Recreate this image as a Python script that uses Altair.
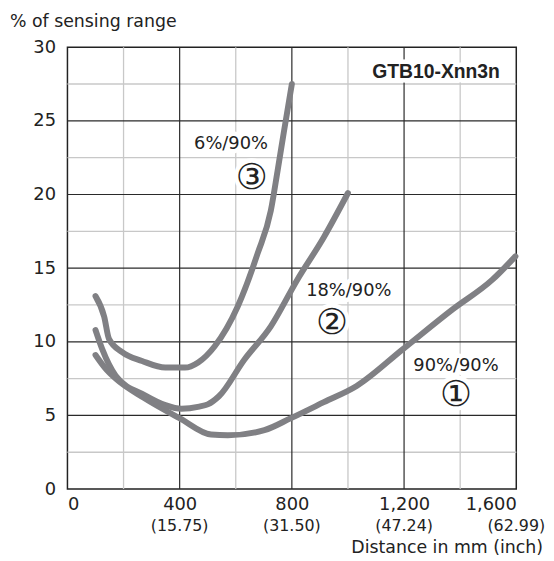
import altair as alt
import pandas as pd

# ---- data ----
c1_x = [100, 135, 172, 272, 401, 512, 572, 702, 795, 914, 1031, 1196, 1373, 1514, 1597]
c1_y = [9.1, 8.2, 7.5, 6.2, 4.8, 3.7, 3.65, 4.0, 4.8, 5.9, 7.0, 9.5, 12.2, 14.2, 15.8]

c2_x = [100, 124, 172, 278, 349, 407, 470, 500, 540, 631, 725, 819, 914, 1000]
c2_y = [10.8, 9.5, 7.7, 6.35, 5.7, 5.45, 5.6, 5.75, 6.3, 8.8, 11.05, 14.2, 17.1, 20.1]

c3_x = [100, 131, 148, 195, 266, 349, 419, 466, 525, 607, 678, 725, 749, 772, 800]
c3_y = [13.1, 11.7, 10.2, 9.3, 8.7, 8.25, 8.25, 8.6, 9.7, 12.4, 16.0, 18.9, 21.6, 24.3, 27.5]

x_ticks = [0, 400, 800, 1200, 1600]
x_inch = ["", "(15.75)", "(31.50)", "(47.24)", "(62.99)"]
y_ticks = [0, 5, 10, 15, 20, 25, 30]
x_minor = [200, 600, 1000, 1400]
y_minor = [2.5, 7.5, 12.5, 17.5, 22.5, 27.5]
x_major = [400, 800, 1200]
y_major = [5, 10, 15, 20, 25]

label_text = ["6%/90%", "18%/90%", "90%/90%"]
label_x = [583, 1003, 1385]
label_y = [23.4, 13.45, 8.34]
num_text = ["③", "②", "①"]
num_x = [657, 943, 1385]
num_y = [21.1, 11.3, 6.4]
model_text = ["GTB10-Xnn3n"]
model_x = [1314]
model_y = [28.3]

W, H = 453, 446
FONT = "DejaVu Sans"
xs = alt.Scale(domain=[0, 1600], nice=False)
ys = alt.Scale(domain=[0, 30], nice=False)

curves = pd.concat([
    pd.DataFrame({"x": c1_x, "y": c1_y, "c": "1"}),
    pd.DataFrame({"x": c2_x, "y": c2_y, "c": "2"}),
    pd.DataFrame({"x": c3_x, "y": c3_y, "c": "3"}),
])

base_x = alt.X("x:Q", scale=xs, axis=alt.Axis(values=x_ticks, format=",.0f", grid=False, ticks=False,
                                                domain=False, labelFontSize=18, labelPadding=7,
                                                labelColor="#222", labelFont=FONT, title=None))
base_y = alt.Y("y:Q", scale=ys, axis=alt.Axis(values=y_ticks, format=".0f", grid=False, ticks=False,
                                                domain=False, labelFontSize=18, labelPadding=12,
                                                labelColor="#222", labelFont=FONT, title=None))

minor_x = alt.Chart(pd.DataFrame({"x": x_minor})).mark_rule(color="#c8c8c8", strokeWidth=1.3).encode(x=base_x)
minor_y = alt.Chart(pd.DataFrame({"y": y_minor})).mark_rule(color="#c8c8c8", strokeWidth=1.3).encode(y=base_y)
major_x = alt.Chart(pd.DataFrame({"x": x_major})).mark_rule(color="#2a2a2a", strokeWidth=1.2).encode(x=base_x)
major_y = alt.Chart(pd.DataFrame({"y": y_major})).mark_rule(color="#2a2a2a", strokeWidth=1.2).encode(y=base_y)

labels = pd.DataFrame({"x": label_x, "y": label_y, "t": label_text})
nums = pd.DataFrame({"x": num_x, "y": num_y, "t": num_text})
model = pd.DataFrame({"x": model_x, "y": model_y, "t": model_text})

def txt(df, size, halo, bold=False, font=FONT):
    kw = dict(fontSize=size, font=font, align="center", baseline="middle",
              fontWeight="bold" if bold else "normal")
    if halo:
        kw.update(color="white", stroke="white", strokeWidth=9, strokeJoin="round")
    else:
        kw.update(color="#222")
    return alt.Chart(df).mark_text(**kw).encode(x=base_x, y=base_y, text="t:N")

halos = [txt(labels, 18, True), txt(nums, 36, True), txt(model, 19.5, True, True, "Liberation Sans")]
texts = [txt(labels, 18, False), txt(nums, 36, False), txt(model, 19.5, False, True, "Liberation Sans")]

lines = alt.Chart(curves).mark_line(color="#808084", strokeWidth=6, strokeCap="round",
                                    strokeJoin="round", interpolate="monotone").encode(
    x=base_x, y=base_y, detail="c:N")

inch = alt.Chart(pd.DataFrame({"x": x_ticks, "t": x_inch})).mark_text(
    fontSize=16, font=FONT, color="#222", align="center", baseline="middle").encode(
    x=base_x, y=alt.value(H + 37), text="t:N")

xtitle = alt.Chart(pd.DataFrame({"t": ["Distance in mm (inch)"]})).mark_text(
    fontSize=17.5, font=FONT, color="#222", align="right", baseline="middle").encode(
    x=alt.value(W + 27), y=alt.value(H + 60), text="t:N")

ytitle = alt.Chart(pd.DataFrame({"t": ["% of sensing range"]})).mark_text(
    fontSize=17.5, font=FONT, color="#222", align="left", baseline="middle").encode(
    x=alt.value(-58), y=alt.value(-25), text="t:N")

chart = alt.layer(minor_x, minor_y, major_x, major_y, *halos, lines, *texts, inch, xtitle, ytitle).properties(
    width=W, height=H,
    autosize=alt.AutoSizeParams(type="none"),
    padding={"left": 60, "top": 37, "right": 30, "bottom": 66},
).configure_view(stroke="#222", strokeWidth=1.5)

chart.save("out.html", embed_options={"renderer": "svg", "actions": False})
